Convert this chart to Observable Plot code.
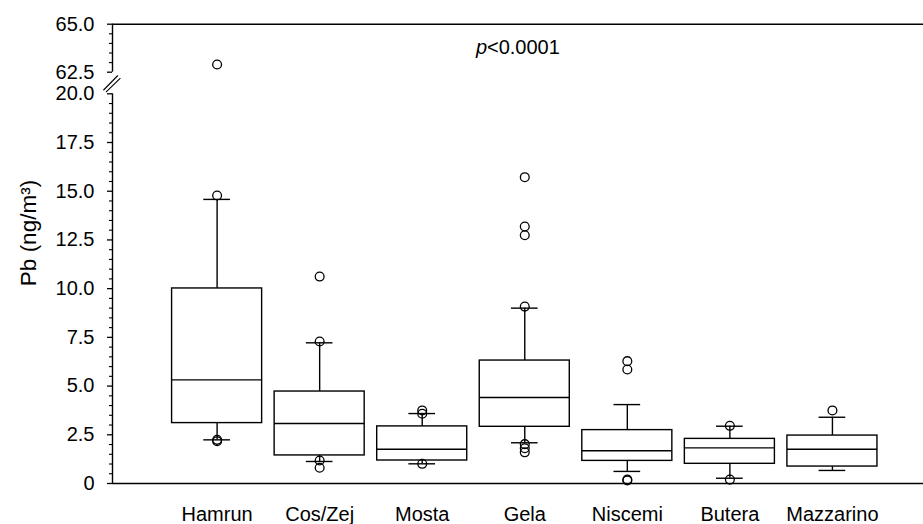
<!DOCTYPE html>
<html>
<head>
<meta charset="utf-8">
<script src="https://cdn.jsdelivr.net/npm/d3@7"></script>
<script src="https://cdn.jsdelivr.net/npm/@observablehq/plot@0.6"></script>
<style>
  html, body { margin: 0; padding: 0; background: #fff; }
  #chart svg { display: block; }
</style>
</head>
<body>
<div id="chart"></div>
<script>
// ---- data ----
const categories = ["Hamrun", "Cos/Zej", "Mosta", "Gela", "Niscemi", "Butera", "Mazzarino"];
const q1          = [3.10, 1.44, 1.18, 2.91, 1.16, 1.01, 0.87];
const median      = [5.32, 3.08, 1.76, 4.41, 1.68, 1.83, 1.76];
const q3          = [10.01, 4.72, 2.93, 6.31, 2.74, 2.29, 2.46];
const whiskerLow  = [2.24, 1.13, 1.01, 2.09, 0.62, 0.27, 0.67];
const whiskerHigh = [14.58, 7.22, 3.59, 9.00, 4.05, 2.94, 3.40];
const outliers = [
  [62.9, 14.78, 2.24, 2.17],
  [10.62, 7.29, 1.18, 0.81],
  [3.75, 3.58, 1.01],
  [15.72, 13.19, 12.74, 9.08, 2.02, 1.81, 1.60],
  [6.28, 5.85, 0.20, 0.16],
  [2.96, 0.20],
  [3.75]
];
const yTickValues = [0, 2.5, 5, 7.5, 10, 12.5, 15, 17.5, 20, 62.5, 65];
const yTickLabels = ["0", "2.5", "5.0", "7.5", "10.0", "12.5", "15.0", "17.5", "20.0", "62.5", "65.0"];
const pLabel = "<0.0001";
const yLabel = "Pb (ng/m³)";

// ---- derived tables ----
const boxes = categories.map((name, k) => ({
  i: k + 1, name, q1: q1[k], med: median[k], q3: q3[k], lo: whiskerLow[k], hi: whiskerHigh[k]
}));
const points = outliers.flatMap((vals, k) => vals.map(v => ({ i: k + 1, v })));
const minorTicks = d3.range(0, 41).map(d => d / 2).concat(d3.range(125, 131).map(d => d / 2))
  .filter(d => !yTickValues.includes(d));

const halfBox = 0.439;
const halfCap = 0.13;
const xMin = -0.02;
const sw = 1.4;

const chart = Plot.plot({
  width: 923,
  height: 524,
  marginLeft: 112,
  marginRight: 0,
  marginTop: 24,
  marginBottom: 41,
  style: { fontFamily: "'Liberation Sans', Arial, sans-serif", fontSize: "20px", color: "black", background: "white" },
  x: { type: "linear", domain: [xMin, 7.888], axis: null },
  y: { type: "linear", domain: [0, 20, 62.5, 65], range: [483, 93.3, 71.7, 23.7], axis: null },
  marks: [
    // axis lines (broken)
    Plot.ruleY([0, 65], { stroke: "black", strokeWidth: sw }),
    Plot.ruleX([xMin], { y1: 0, y2: 20, stroke: "black", strokeWidth: sw }),
    Plot.ruleX([xMin], { y1: 62.5, y2: 65, stroke: "black", strokeWidth: sw }),
    // y ticks
    Plot.axisY({ ticks: minorTicks, tickSize: 3, tickFormat: () => "", strokeWidth: 1.1, label: null }),
    Plot.axisY({ ticks: yTickValues, tickSize: 5, tickPadding: 13, strokeWidth: 1.3, fontSize: 20, label: null,
      tickFormat: d => yTickLabels[yTickValues.indexOf(d)] }),
    // x labels
    Plot.axisX({ ticks: boxes.map(d => d.i), tickSize: 0, tickPadding: 23, fontSize: 20, label: null,
      tickFormat: d => categories[d - 1] }),
    // whiskers
    Plot.ruleX(boxes, { x: "i", y1: "q3", y2: "hi", stroke: "black", strokeWidth: sw }),
    Plot.ruleX(boxes, { x: "i", y1: "lo", y2: "q1", stroke: "black", strokeWidth: sw }),
    Plot.ruleY(boxes, { y: "hi", x1: d => d.i - halfCap, x2: d => d.i + halfCap, stroke: "black", strokeWidth: sw }),
    Plot.ruleY(boxes, { y: "lo", x1: d => d.i - halfCap, x2: d => d.i + halfCap, stroke: "black", strokeWidth: sw }),
    // boxes
    Plot.rect(boxes, { x1: d => d.i - halfBox, x2: d => d.i + halfBox, y1: "q1", y2: "q3",
      fill: "white", stroke: "black", strokeWidth: sw }),
    Plot.ruleY(boxes, { y: "med", x1: d => d.i - halfBox, x2: d => d.i + halfBox, stroke: "black", strokeWidth: sw }),
    // outliers
    Plot.dot(points, { x: "i", y: "v", r: 4.4, stroke: "black", strokeWidth: 1.3, fill: "none" }),
    // axis break marks
    Plot.link([0, 1], {
      x1: d => xMin - 0.089 + d * 0.025, y1: d => 27 - d * 3.5,
      x2: d => xMin + 0.052 + d * 0.025, y2: d => 56 - d * 5,
      stroke: "black", strokeWidth: 1.1, clip: false
    }),
    // p-value annotation
    Plot.text(["p"], { frameAnchor: "top", textAnchor: "end", lineAnchor: "middle", dx: -31, dy: 23, fontStyle: "italic", fontSize: 20 }),
    Plot.text([pLabel], { frameAnchor: "top", textAnchor: "start", lineAnchor: "middle", dx: -31, dy: 23, fontSize: 20 }),
    // y label
    Plot.text([yLabel], { frameAnchor: "left", textAnchor: "middle", lineAnchor: "middle", rotate: -90, dx: -84, dy: -21, fontSize: 22.5 })
  ]
});
document.getElementById("chart").appendChild(chart);
</script>
</body>
</html>
